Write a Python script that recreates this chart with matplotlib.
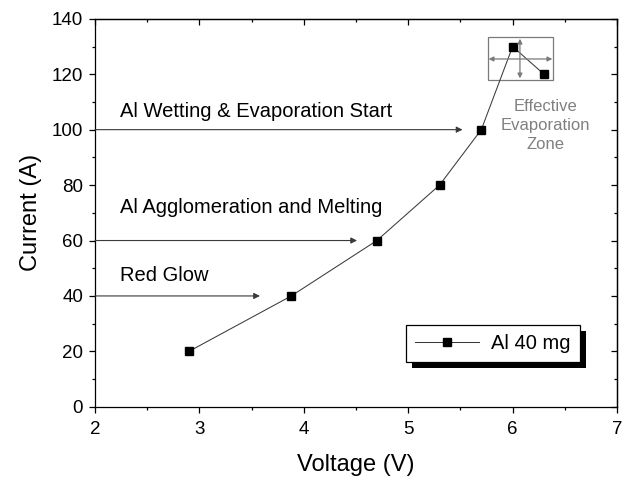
import matplotlib
matplotlib.use("Agg")
import matplotlib.pyplot as plt
from matplotlib.patches import Rectangle, Shadow
from matplotlib.ticker import MultipleLocator

plt.rcParams["font.family"] = ["Liberation Sans", "DejaVu Sans"]

# data
voltage = [2.9, 3.88, 4.7, 5.3, 5.7, 6.0, 6.3]
current = [20, 40, 60, 80, 100, 130, 120]
series_label = "Al 40 mg"

# stage annotations: text, text anchor (x, y), arrow tip x, level y
stages = [
    ("Red Glow", 2.24, 47.5, 3.58, 40),
    ("Al Agglomeration and Melting", 2.24, 72, 4.51, 60),
    ("Al Wetting & Evaporation Start", 2.24, 106.5, 5.52, 100),
]
zone_text = "Effective\nEvaporation\nZone"

fig = plt.figure(figsize=(6.29, 4.82), dpi=100)
ax = fig.add_axes([0.151, 0.156, 0.830, 0.805])

line_col = "#3a3a3a"
ax.plot(voltage, current, color=line_col, lw=0.75, marker="s", ms=5.5,
        mfc="black", mec="black", label=series_label, zorder=3)

ax.set_xlim(2, 7)
ax.set_ylim(0, 140)
ax.xaxis.set_major_locator(MultipleLocator(1))
ax.xaxis.set_minor_locator(MultipleLocator(0.5))
ax.yaxis.set_major_locator(MultipleLocator(20))
ax.yaxis.set_minor_locator(MultipleLocator(10))
ax.tick_params(which="major", direction="out", length=4.5, width=0.9, labelsize=13.5,
               colors="black", pad=4)
ax.tick_params(axis="x", which="major", pad=6)
ax.tick_params(which="minor", direction="out", length=2.5, width=0.9)
for sp in ax.spines.values():
    sp.set_linewidth(0.9)

# mirrored axes with inward ticks, like the original plot
top = ax.secondary_xaxis("top")
top.xaxis.set_major_locator(MultipleLocator(1))
top.xaxis.set_minor_locator(MultipleLocator(0.5))
top.tick_params(which="major", direction="in", length=4.5, width=0.9, labeltop=False)
top.tick_params(which="minor", direction="in", length=2.5, width=0.9)
right = ax.secondary_yaxis("right")
right.yaxis.set_major_locator(MultipleLocator(20))
right.yaxis.set_minor_locator(MultipleLocator(10))
right.tick_params(which="major", direction="in", length=4.5, width=0.9, labelright=False)
right.tick_params(which="minor", direction="in", length=2.5, width=0.9)
for sec in (top, right):
    for sp in sec.spines.values():
        sp.set_linewidth(0.9)

ax.set_xlabel("Voltage (V)", fontsize=17, labelpad=11)
ax.set_ylabel("Current (A)", fontsize=17, labelpad=7)

for text, tx, ty, tip, level in stages:
    ax.text(tx, ty, text, fontsize=14.5, ha="left", va="center")
    ax.annotate("", xy=(tip, level), xytext=(2.0, level),
                arrowprops=dict(arrowstyle="-|>", color=line_col, lw=0.8,
                                mutation_scale=9, shrinkA=0, shrinkB=0))

# inset frame marking the evaporation zone
zone_col = "#7a7a7a"
ax.add_patch(Rectangle((5.76, 117.8), 0.63, 15.7, fill=False, ec=zone_col, lw=0.9, zorder=2))
ax.annotate("", xy=(5.77, 125.5), xytext=(6.38, 125.5),
            arrowprops=dict(arrowstyle="<|-|>", color=zone_col, lw=0.9,
                            mutation_scale=7, shrinkA=0, shrinkB=0))
ax.annotate("", xy=(6.07, 132.8), xytext=(6.07, 118.5),
            arrowprops=dict(arrowstyle="<|-|>", color=zone_col, lw=0.9,
                            mutation_scale=7, shrinkA=0, shrinkB=0))
ax.text(6.31, 101.5, zone_text, color="#808080", fontsize=12, ha="center", va="center",
        linespacing=1.35)

leg = ax.legend(loc="lower right", bbox_to_anchor=(0.929, 0.116), borderaxespad=0,
                fontsize=14.5, fancybox=False, framealpha=1, edgecolor="black",
                handlelength=3.2, borderpad=0.45, handletextpad=0.6)
leg.get_frame().set_linewidth(0.9)
leg.set_zorder(6)
shadow = Shadow(leg.legendPatch, 4.5, -4.5, facecolor="black", edgecolor="none", alpha=1)
shadow.set_zorder(5)
ax.add_artist(shadow)

fig.canvas.draw()
fig.savefig("out.png", dpi=100, facecolor="white")
